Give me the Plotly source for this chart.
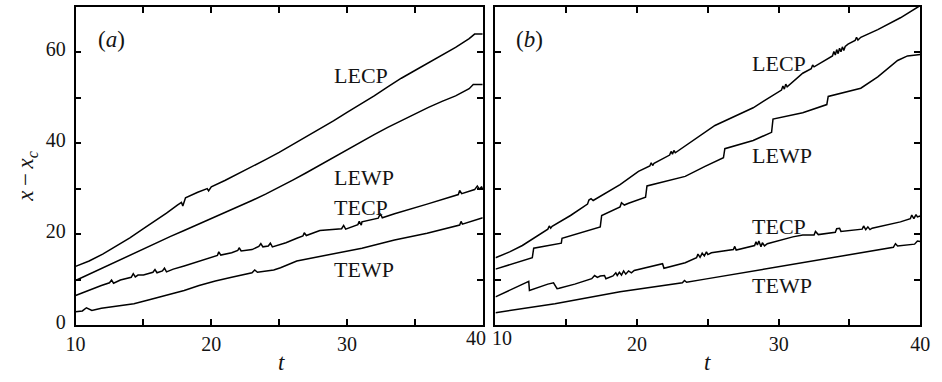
import plotly.graph_objects as go

# ---- panel (a) ----
a_lecp_t = [10, 11, 12, 13, 14, 15, 16, 16.7, 17.5, 17.8, 17.9, 18.1, 19, 19.7, 19.8, 20, 21, 22, 23, 24, 25, 26, 27, 28, 29, 30, 31, 32, 33, 34, 35, 36, 37, 38, 39, 39.4, 40]
a_lecp_y = [12.9, 14.1, 15.6, 17.4, 19.2, 21.2, 23.1, 24.6, 26.4, 27.0, 26.2, 28.0, 29.2, 30.0, 29.5, 30.4, 31.8, 33.3, 34.9, 36.4, 38.0, 39.7, 41.4, 43.1, 44.9, 46.8, 48.6, 50.4, 52.4, 54.3, 56.0, 57.7, 59.4, 61.1, 63.0, 64.0, 64.0]

a_lewp_t = [10, 11, 12, 13, 14, 15, 16, 17, 18, 19, 20, 21, 22, 23, 24, 25, 26, 27, 28, 29, 30, 31, 32, 33, 34, 35, 36, 37, 38, 39, 39.3, 40]
a_lewp_y = [9.8, 11.2, 12.6, 14.0, 15.4, 16.7, 18.1, 19.5, 20.8, 22.1, 23.4, 24.8, 26.1, 27.4, 28.8, 30.3, 31.9, 33.5, 35.2, 36.8, 38.5, 40.2, 41.9, 43.5, 45.0, 46.5, 47.9, 49.2, 50.4, 52.0, 52.9, 52.9]

a_tecp_t = [10, 11, 11.9, 12.5, 12.65, 12.8, 13.3, 14.1, 14.25, 14.4, 14.6, 15.0, 15.7, 15.85, 16.0, 16.4, 16.55, 16.7, 17.2, 18, 19.1, 20, 20.45, 20.55, 20.7, 21.5, 21.95, 22.05, 22.2, 23.0, 23.5, 23.65, 23.8, 24.2, 24.35, 24.5, 24.6, 25.5, 26.3, 26.75, 26.85, 27.0, 28.0, 29.6, 29.75, 29.9, 30.8, 30.9, 31.05, 31.1, 32.3, 32.45, 32.6, 33.5, 35.9, 38.2, 38.3, 38.45, 39.4, 39.6, 39.75, 39.9, 40]
a_tecp_y = [6.5, 7.7, 8.7, 9.3, 9.9, 9.2, 9.9, 10.5, 11.3, 10.6, 11.0, 11.0, 11.6, 12.2, 11.5, 11.9, 12.5, 11.7, 12.3, 13.0, 14.1, 14.9, 15.3, 16.1, 15.4, 15.9, 16.4, 17.0, 16.3, 16.6, 17.3, 17.9, 17.2, 17.4, 18.0, 17.2, 17.3, 18.1, 19.1, 19.6, 20.3, 19.7, 20.8, 21.2, 21.9, 21.1, 22.1, 22.8, 22.0, 22.7, 23.5, 24.5, 23.6, 24.5, 26.6, 28.7, 29.6, 28.9, 29.8, 30.6, 29.9, 30.4, 30.2]

a_tewp_t = [10, 10.5, 10.8, 11.2, 11.9, 13, 14.3, 15.5, 16.7, 18, 19.1, 20.3, 21.5, 23.0, 23.2, 23.4, 24.6, 25.1, 26.3, 28.7, 31.1, 33.5, 35.9, 38.3, 38.4, 38.5, 39.7, 40]
a_tewp_y = [2.9, 3.1, 3.8, 3.2, 3.7, 4.2, 4.7, 5.6, 6.5, 7.6, 8.7, 9.7, 10.5, 11.5, 12.1, 11.6, 12.1, 12.6, 14.1, 15.5, 16.9, 18.7, 20.2, 22.0, 22.8, 22.2, 23.4, 23.6]

# ---- panel (b) ----
b_lecp_t = [10, 11, 11.9, 13, 13.7, 13.8, 13.9, 14.0, 15.3, 16.5, 16.6, 16.75, 16.9, 18.8, 20.1, 20.9, 21.0, 21.1, 21.2, 22.3, 22.4, 22.5, 22.6, 22.7, 24.8, 25.5, 28.2, 30.2, 30.3, 30.4, 30.5, 30.6, 31.7, 32.3, 32.4, 32.5, 33.8, 33.9, 34.0, 34.1, 34.2, 34.3, 34.4, 34.5, 34.6, 34.7, 34.9, 35.4, 35.5, 35.6, 35.8, 37.0, 38.6, 39.7, 40]
b_lecp_y = [14.8, 16.1, 17.5, 19.6, 21.1, 21.8, 21.3, 21.7, 24.1, 26.6, 27.5, 27.8, 27.4, 30.9, 33.8, 35.0, 35.7, 35.1, 35.6, 37.4, 38.2, 37.6, 38.4, 37.9, 42.4, 43.9, 47.8, 51.7, 52.6, 51.9, 53.0, 52.4, 55.4, 56.4, 57.2, 56.8, 59.2, 60.2, 59.4, 60.6, 59.7, 60.9, 60.1, 61.2, 60.4, 61.3, 61.8, 62.6, 63.3, 62.7, 63.3, 65.0, 67.6, 69.8, 70.3]

b_lewp_t = [10, 12.6, 12.7, 14.65, 14.7, 17.4, 17.5, 18.8, 18.9, 19.1, 19.4, 20.6, 20.7, 23.4, 24.8, 26.1, 26.2, 28.2, 29.5, 29.6, 31.7, 33.4, 33.5, 35.8, 37.0, 38.4, 39.1, 40]
b_lewp_y = [12.3, 14.8, 16.9, 18.0, 19.1, 21.6, 24.1, 26.0, 26.9, 26.4, 26.8, 28.1, 30.6, 32.7, 34.9, 36.8, 38.8, 40.6, 42.4, 45.3, 46.7, 48.5, 50.3, 52.1, 54.6, 58.2, 59.2, 59.5]

b_tecp_t = [10, 11.5, 12.35, 12.4, 13.0, 13.7, 14.1, 14.2, 14.35, 14.5, 15.6, 16.8, 17.0, 17.2, 17.4, 17.7, 17.8, 18.3, 18.5, 18.6, 18.75, 18.9, 19.05, 19.2, 19.4, 19.6, 19.8, 21.8, 21.9, 23.4, 24.2, 24.3, 24.45, 24.6, 24.75, 24.9, 25.0, 25.25, 26.8, 26.9, 27.0, 28.3, 28.4, 28.5, 28.6, 28.75, 28.85, 29.0, 29.2, 31.0, 31.7, 32.5, 32.6, 32.8, 34.0, 34.1, 34.3, 34.4, 35.9, 36.0, 36.15, 36.3, 36.45, 36.6, 38.6, 39.3, 39.4, 39.55, 39.7, 39.8, 40]
b_tecp_y = [6.2, 8.3, 9.6, 7.6, 8.3, 9.0, 9.3, 8.8, 8.0, 8.1, 9.0, 10.2, 10.9, 10.5, 10.8, 10.9, 10.2, 10.8, 11.5, 10.9, 11.6, 11.0, 11.9, 11.2, 11.9, 11.5, 12.0, 13.5, 12.5, 13.7, 14.8, 15.6, 14.9, 15.8, 15.2, 16.1, 15.5, 15.9, 16.6, 17.3, 16.5, 17.5, 18.3, 17.6, 18.5, 17.2, 18.1, 17.4, 17.9, 19.4, 19.8, 19.8, 20.6, 19.9, 20.4, 21.2, 21.3, 20.6, 21.1, 21.8, 21.0, 21.6, 21.0, 21.3, 22.7, 23.4, 24.2, 23.4, 24.3, 23.8, 24.0]

b_tewp_t = [10, 14.2, 18.8, 23.2, 23.35, 23.5, 24.8, 29.4, 34.0, 38.1, 38.25, 38.4, 39.6, 39.8, 40]
b_tewp_y = [2.7, 4.7, 7.3, 9.3, 9.8, 9.4, 10.1, 12.5, 14.8, 17.1, 17.9, 17.4, 17.8, 18.5, 18.4]

curve_names = ["LECP", "LEWP", "TECP", "TEWP"]

# label anchors (t, y) for each panel
a_label_t = [28.9, 28.9, 28.9, 28.9]
a_label_y = [54.9, 32.4, 25.9, 12.3]
b_label_t = [28.0, 28.0, 28.0, 28.0]
b_label_y = [57.5, 37.2, 21.6, 8.7]

FONT = "Liberation Serif, Times New Roman, Times, serif"
INK = "#141414"
W, H = 942, 382

fig = go.Figure()

panel_a = [(a_lecp_t, a_lecp_y), (a_lewp_t, a_lewp_y), (a_tecp_t, a_tecp_y), (a_tewp_t, a_tewp_y)]
panel_b = [(b_lecp_t, b_lecp_y), (b_lewp_t, b_lewp_y), (b_tecp_t, b_tecp_y), (b_tewp_t, b_tewp_y)]

for name, (t, y) in zip(curve_names, panel_a):
    fig.add_trace(go.Scatter(x=t, y=y, mode="lines", name=name,
                             line=dict(color="black", width=1.5),
                             xaxis="x", yaxis="y", showlegend=False))
for name, (t, y) in zip(curve_names, panel_b):
    fig.add_trace(go.Scatter(x=t, y=y, mode="lines", name=name,
                             line=dict(color="black", width=1.5),
                             xaxis="x2", yaxis="y2", showlegend=False))

top_px, bot_px = 7, 332
ydom = [(H - bot_px) / H, (H - top_px) / H]

tick_style = dict(ticks="inside", ticklen=6, tickwidth=1.6, tickcolor="black")
axis_common = dict(showline=True, linecolor="black", linewidth=1.8, mirror="ticks",
                   showgrid=False, zeroline=False,
                   tickfont=dict(family=FONT, size=20, color=INK), **tick_style)

fig.update_layout(
    width=W, height=H,
    margin=dict(l=0, r=0, t=0, b=0),
    paper_bgcolor="white", plot_bgcolor="white",
    xaxis=dict(domain=[67 / W, 483 / W], range=[10, 40], tickmode="array",
               tickvals=[10, 20, 30], anchor="y", ticklabelstandoff=0,
               minor=dict(tickmode="array", tickvals=[15, 25, 35], **tick_style),
               **axis_common),
    yaxis=dict(domain=ydom, range=[0, 70], tickmode="array",
               tickvals=[0, 20, 40, 60], anchor="x", ticklabelstandoff=4, ticklabelshift=-3,
               minor=dict(tickmode="array", tickvals=[10, 30, 50], **tick_style),
               **axis_common),
    xaxis2=dict(domain=[496 / W, 930 / W], range=[10, 40], tickmode="array",
                tickvals=[20, 30, 40], anchor="y2", ticklabelstandoff=0,
                minor=dict(tickmode="array", tickvals=[15, 25, 35], **tick_style),
                **axis_common),
    yaxis2=dict(domain=ydom, range=[0, 70], tickmode="array",
                tickvals=[10, 20, 30, 40, 50, 60], anchor="x2", showticklabels=False,
                **axis_common),
)

lab_font = dict(family=FONT, size=22, color=INK)
ann = []
for name, tx, ty in zip(curve_names, a_label_t, a_label_y):
    ann.append(dict(x=tx, y=ty, xref="x", yref="y", text=name, showarrow=False,
                    xanchor="left", yanchor="middle", font=lab_font))
for name, tx, ty in zip(curve_names, b_label_t, b_label_y):
    ann.append(dict(x=tx, y=ty, xref="x2", yref="y2", text=name, showarrow=False,
                    xanchor="left", yanchor="middle", font=lab_font))

ann.append(dict(x=11.5, y=62.9, xref="x", yref="y", text="(<i>a</i>)", showarrow=False,
                xanchor="left", yanchor="middle", font=dict(family=FONT, size=23, color=INK)))
ann.append(dict(x=11.3, y=62.9, xref="x2", yref="y2", text="(<i>b</i>)", showarrow=False,
                xanchor="left", yanchor="middle", font=dict(family=FONT, size=23, color=INK)))

# end-of-axis tick labels nudged apart where the two panels meet
tick_font = dict(family=FONT, size=20, color=INK)
ann.append(dict(x=40, y=(H - 332) / H, xref="x", yref="paper", text="40", showarrow=False,
                xanchor="center", yanchor="top", xshift=-7, font=tick_font))
ann.append(dict(x=10, y=(H - 332) / H, xref="x2", yref="paper", text="10", showarrow=False,
                xanchor="center", yanchor="top", xshift=7, font=tick_font))

# axis titles
ann.append(dict(x=18 / W, y=1 - 180 / H, xref="paper", yref="paper",
                text="<i>x</i>\u2009\u2212\u2009<i>x<sub>c</sub></i>", textangle=-90,
                showarrow=False, xanchor="center", yanchor="middle",
                font=dict(family=FONT, size=23, color=INK)))
ann.append(dict(x=277 / W, y=1 - 370 / H, xref="paper", yref="paper", text="<i>t</i>",
                showarrow=False, xanchor="center", yanchor="middle",
                font=dict(family=FONT, size=23, color=INK)))
ann.append(dict(x=713 / W, y=1 - 370 / H, xref="paper", yref="paper", text="<i>t</i>",
                showarrow=False, xanchor="center", yanchor="middle",
                font=dict(family=FONT, size=23, color=INK)))

fig.update_layout(annotations=ann)
fig.write_html("out.html")
